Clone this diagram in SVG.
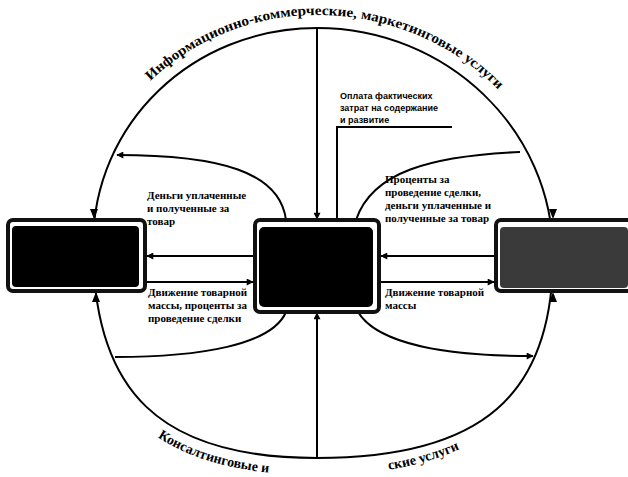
<svg xmlns="http://www.w3.org/2000/svg" width="628" height="477" viewBox="0 0 628 477">
<defs>
<marker id="ah" viewBox="0 0 10 10" refX="9" refY="5" markerWidth="8" markerHeight="7" markerUnits="userSpaceOnUse" orient="auto"><path d="M0,0 L10,5 L0,10 z" fill="#000"/></marker>
<path id="topArc" d="M 80,245 C 80,115 188,15 317,15 C 452,15 566,118 566,255"/>
<path id="botArc" d="M 76,245 C 76,400 150,475 317,475 C 485,475 570,400 570,255"/>
</defs>
<style>
.ln{fill:none;stroke:#000;stroke-width:2}
.frame{fill:#fff;stroke:#111;stroke-width:4}
.lbl{font-family:'Liberation Serif','DejaVu Serif',serif;font-weight:bold;font-size:11px;fill:#000}
.arc{font-family:'Liberation Serif','DejaVu Serif',serif;font-weight:bold;font-size:14px;fill:#000}
.pay{font-family:'Liberation Sans','DejaVu Sans',sans-serif;font-weight:bold;font-size:9px;fill:#000}
</style>
<rect width="628" height="477" fill="#fff"/>
<g id="connectors">
<path class="ln" d="M 317,28 C 193,28 93,123 93,245 C 93,392 160,458 317,458 C 482,458 553,395 553,255 C 553,130 447,28 317,28 Z"/>
<line class="ln" x1="317" y1="28" x2="317" y2="219" marker-end="url(#ah)"/>
<line class="ln" x1="317" y1="458" x2="317" y2="313" marker-end="url(#ah)"/>
<polyline class="ln" points="337,220 337,127 452,127"/>
<path class="ln" d="M 286,220 C 280,172 220,155 117,155" marker-end="url(#ah)"/>
<path class="ln" d="M 356,220 C 372,172 430,156 520,152"/>
<path class="ln" d="M 286,312 C 272,345 200,357 115,357"/>
<path class="ln" d="M 358,312 C 378,345 450,356 533,356" marker-end="url(#ah)"/>
<line class="ln" x1="254" y1="256" x2="147" y2="256" marker-end="url(#ah)"/>
<line class="ln" x1="147" y1="282" x2="253" y2="282" marker-end="url(#ah)"/>
<line class="ln" x1="495" y1="256" x2="381" y2="256" marker-end="url(#ah)"/>
<line class="ln" x1="381" y1="282" x2="494" y2="282" marker-end="url(#ah)"/>
<polygon points="94,219 90,209 98,209"/>
<polygon points="96,292 92,302 100,302"/>
<polygon points="553,219 549,209 557,209"/>
<polygon points="553,292 549,302 557,302"/>
</g>
<g id="node-left">
<rect class="frame" x="8" y="220" width="137" height="71" rx="5"/>
<rect x="12" y="226" width="127" height="61" rx="4" fill="#000"/>
</g>
<g id="node-center">
<rect class="frame" x="255" y="220" width="124" height="92" rx="5"/>
<rect x="259" y="227" width="114" height="80" rx="5" fill="#000"/>
</g>
<g id="node-right">
<rect class="frame" x="496" y="220" width="136" height="71" rx="5"/>
<rect x="500" y="227" width="128" height="61" rx="4" fill="#3a3a3a"/>
</g>
<g id="labels">
<text class="arc"><textPath href="#topArc" startOffset="50%" text-anchor="middle" textLength="385" lengthAdjust="spacingAndGlyphs">Информационно-коммерческие, маркетинговые услуги</textPath></text>
<text class="arc"><textPath href="#botArc" startOffset="218">Консалтинговые и</textPath></text>
<text class="arc"><textPath href="#botArc" startOffset="530" text-anchor="end">ские услуги</textPath></text>
<text class="pay" x="340" y="99">Оплата фактических</text>
<text class="pay" x="340" y="111">затрат на содержание</text>
<text class="pay" x="340" y="123">и развитие</text>
<text class="lbl" x="147" y="199">Деньги уплаченные</text>
<text class="lbl" x="147" y="212">и полученные за</text>
<text class="lbl" x="147" y="225">товар</text>
<text class="lbl" x="148" y="296">Движение товарной</text>
<text class="lbl" x="148" y="309">массы, проценты за</text>
<text class="lbl" x="148" y="322">проведение сделки</text>
<text class="lbl" x="385" y="183">Проценты за</text>
<text class="lbl" x="385" y="196">проведение сделки,</text>
<text class="lbl" x="385" y="209">деньги уплаченные и</text>
<text class="lbl" x="385" y="222">полученные за товар</text>
<text class="lbl" x="385" y="296">Движение товарной</text>
<text class="lbl" x="385" y="309">массы</text>
</g>
</svg>
